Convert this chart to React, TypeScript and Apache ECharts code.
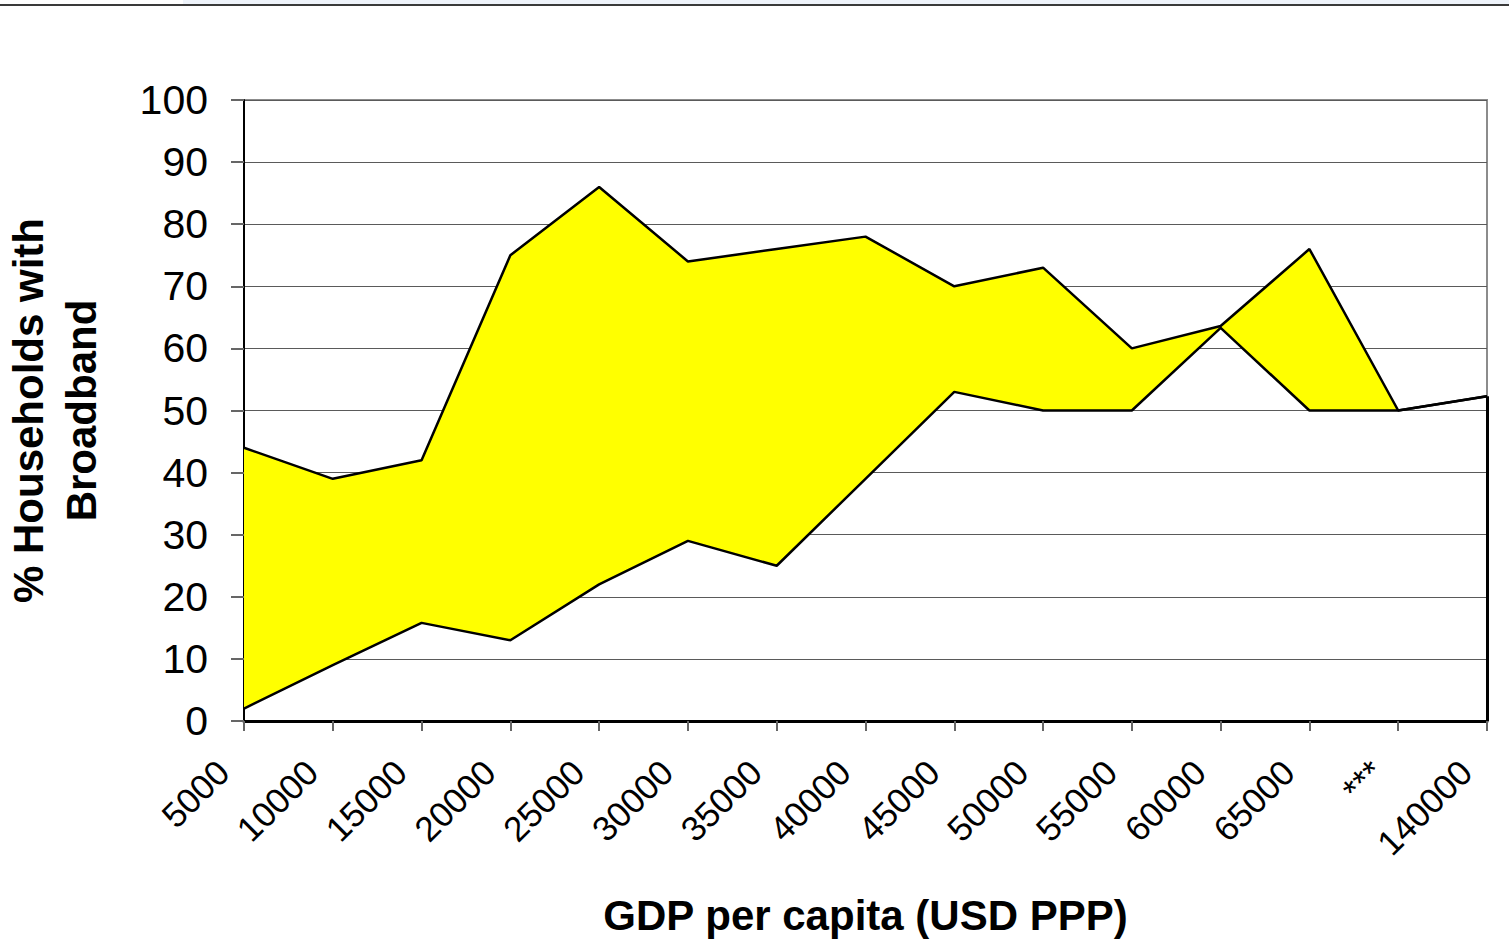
import React, { useEffect, useRef } from "react";
import * as echarts from "echarts";

const categories = ["5000", "10000", "15000", "20000", "25000", "30000", "35000", "40000", "45000", "50000", "55000", "60000", "65000", "***", "140000"];
const upperValues = [44, 39, 42, 75, 86, 74, 76, 78, 70, 73, 60, 63.6, 76, 50, 52.3];
const lowerValues = [2, 9, 15.8, 13, 22, 29, 25, 39, 53, 50, 50, 63.3, 50, 50, 52.3];
const yTicks = { min: 0, max: 100, interval: 10 };

const FONT = "'Liberation Sans', Arial, Helvetica, sans-serif";

export default function App() {
  const ref = useRef<HTMLDivElement>(null);
  useEffect(() => {
    if (!ref.current) return;
    const chart = echarts.init(ref.current, null, { renderer: "svg" });
    const diff = upperValues.map((u, i) => +(u - lowerValues[i]).toFixed(2));
    const lastIdx = categories.length - 1;
    chart.setOption({
      animation: false,
      backgroundColor: "#ffffff",
      textStyle: { fontFamily: FONT },
      graphic: [
        { type: "rect", shape: { x: 183, y: 0, width: 1326, height: 4 }, style: { fill: "#eef3fa" }, silent: true },
        { type: "rect", shape: { x: 0, y: 4, width: 1509, height: 2 }, style: { fill: "#3a3a3a" }, silent: true },
      ],
      grid: {
        left: 244, right: 22, top: 100, bottom: 218,
        outerBoundsMode: "none",
        containLabel: false,
        show: true, borderColor: "#8c8c8c", borderWidth: 2, backgroundColor: "transparent",
      },
      xAxis: {
        type: "category",
        data: categories,
        boundaryGap: false,
        name: "GDP per capita (USD PPP)",
        nameLocation: "middle",
        nameGap: 173,
        nameTextStyle: { fontFamily: FONT, fontSize: 42, fontWeight: "bold", color: "#000" },
        axisLine: { lineStyle: { color: "#000", width: 3 } },
        axisTick: { show: true, interval: 0, length: 10, lineStyle: { color: "#666", width: 2 } },
        axisLabel: { interval: 0, rotate: 45, fontSize: 35, color: "#000", margin: 24, padding: [0, 30, 0, 0], fontFamily: FONT },
        splitLine: { show: false },
      },
      yAxis: {
        type: "value",
        min: yTicks.min, max: yTicks.max, interval: yTicks.interval,
        name: "% Households with\nBroadband",
        nameLocation: "middle",
        nameRotate: 90,
        nameGap: 136,
        nameTextStyle: { fontFamily: FONT, fontSize: 42, fontWeight: "bold", color: "#000", lineHeight: 53 },
        axisLine: { show: true, lineStyle: { color: "#000", width: 2 } },
        axisTick: { show: true, length: 13, lineStyle: { color: "#666", width: 2 } },
        axisLabel: { fontSize: 41, color: "#000", margin: 36, fontFamily: FONT },
        splitLine: { show: true, lineStyle: { color: "#5a5a5a", width: 1 } },
      },
      series: [
        {
          name: "lower",
          type: "line",
          stack: "band",
          data: lowerValues,
          showSymbol: false,
          symbol: "none",
          lineStyle: { color: "#000", width: 2.5 },
          z: 3,
          markLine: {
            silent: true,
            symbol: "none",
            label: { show: false },
            lineStyle: { color: "#000", width: 3, type: "solid" },
            data: [[{ coord: [categories[lastIdx], 0] }, { coord: [categories[lastIdx], lowerValues[lastIdx]] }]],
          },
        },
        {
          name: "upper",
          type: "line",
          stack: "band",
          data: diff,
          showSymbol: false,
          symbol: "none",
          lineStyle: { color: "#000", width: 2.5 },
          areaStyle: { color: "#ffff00", opacity: 1 },
          z: 2,
        },
      ],
    });
    return () => chart.dispose();
  }, []);
  return <div ref={ref} style={{ position: "fixed", left: 0, top: 0, width: 1509, height: 939 }} />;
}
